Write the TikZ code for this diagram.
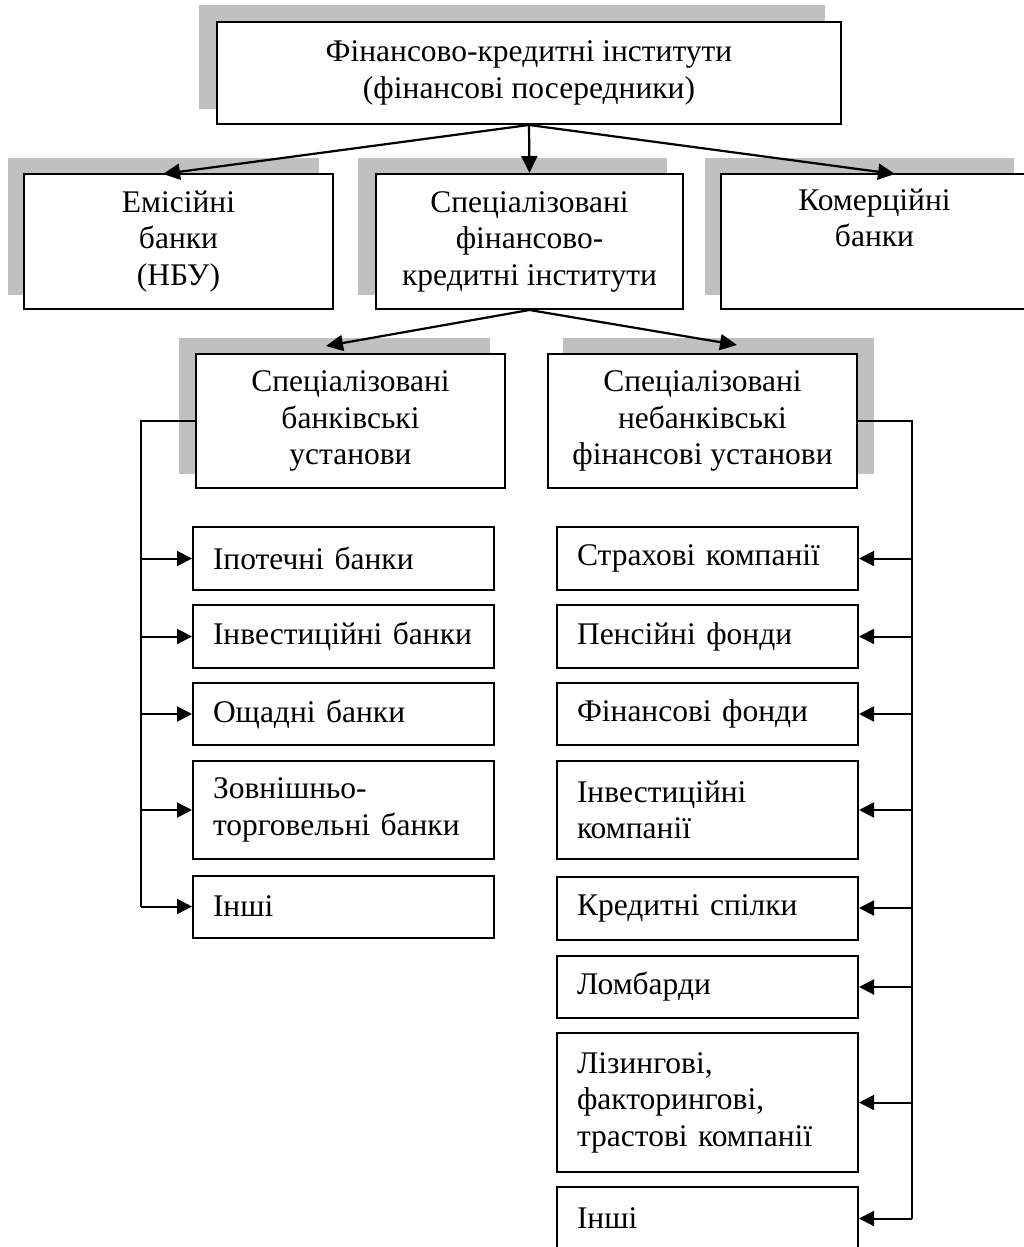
\documentclass[tikz,border=0pt]{standalone}
\usepackage{fontspec}
\setmainfont{Liberation Serif}
\usetikzlibrary{arrows.meta,backgrounds}
\definecolor{shadowgray}{HTML}{C0C0C0}
\begin{document}
\begin{tikzpicture}[x=1pt,y=-1pt,
  box/.style={draw, fill=white, line width=2pt, inner sep=0pt,
    font=\fontsize{31.5pt}{36.5pt}\selectfont, align=center},
  lbox/.style={box, align=left, text width=261pt, inner xsep=20pt, minimum height=#1},
  arr/.style={line width=2.2pt, -{Triangle[length=17pt,width=16pt]}},
  bus/.style={line width=2pt},
  br/.style={line width=2pt, -{Triangle[length=15pt,width=15pt]}},
  shadowbox/.style={fill=shadowgray}
]
\useasboundingbox (0,0) rectangle (1024,1247);

% main boxes
\node[box, minimum width=624pt, minimum height=102pt] (top) at (529,73)
  {Фінансово-кредитні інститути\\(фінансові посередники)};
\node[box, minimum width=309pt, minimum height=135pt] (em) at (178.5,241.5)
  {Емісійні\\банки\\(НБУ)};
\node[box, minimum width=307pt, minimum height=135pt] (spec) at (529.5,241.5)
  {Спеціалізовані\\фінансово-\\кредитні інститути};
\node[box, minimum width=307pt, minimum height=135pt] (kom) at (874.5,241.5)
  {Комерційні\\банки\\\strut};
\node[box, minimum width=309pt, minimum height=134pt] (sb) at (350.5,421)
  {Спеціалізовані\\банківські\\установи};
\node[box, minimum width=309pt, minimum height=134pt] (nb) at (702.5,421)
  {Спеціалізовані\\небанківські\\фінансові установи};

% left children
\node[lbox=63pt] (L1) at (343.5,558.5) {\mbox{Іпотечні банки}};
\node[lbox=63pt] (L2) at (343.5,636.5) {\mbox{Інвестиційні банки}};
\node[lbox=62pt] (L3) at (343.5,714) {\mbox{Ощадні банки}};
\node[lbox=98pt] (L4) at (343.5,810) {Зовнішньо-\\\mbox{торговельні банки}};
\node[lbox=62pt] (L5) at (343.5,906.5) {Інші};

% right children
\node[lbox=63pt] (R1) at (707.5,558.5) {\mbox{Страхові компанії}};
\node[lbox=63pt] (R2) at (707.5,636.5) {\mbox{Пенсійні фонди}};
\node[lbox=62pt] (R3) at (707.5,714) {\mbox{Фінансові фонди}};
\node[lbox=98pt] (R4) at (707.5,810) {Інвестиційні\\компанії};
\node[lbox=63pt] (R5) at (707.5,908) {\mbox{Кредитні спілки}};
\node[lbox=62pt] (R6) at (707.5,987) {Ломбарди};
\node[lbox=139pt] (R7) at (707.5,1102.5) {Лізингові,\\факторингові,\\\mbox{трастові компанії}};
\node[lbox=63pt] (R8) at (707.5,1218.5) {Інші};

% shadows
\begin{scope}[on background layer]
\foreach \n/\dx/\dy in {top/-17/-16, em/-15/-15, spec/-17/-15, kom/-15/-15, sb/-16/-15, nb/16/-15}
  \fill[shadowbox] ([shift={(\dx,\dy)}]\n.south west) rectangle ([shift={(\dx,\dy)}]\n.north east);
\end{scope}

% arrow tips and bus points
\coordinate (tEm) at (163,174);
\coordinate (tKom) at (895,174);
\coordinate (tSB) at (326,346);
\coordinate (tNB) at (737,345);
\coordinate (lbus) at (141,421);
\coordinate (rbus) at (912,421);

\draw[arr] (top.south) -- (tEm);
\draw[arr] (top.south) -- (spec.north);
\draw[arr] (top.south) -- (tKom);
\draw[arr] (spec.south) -- (tSB);
\draw[arr] (spec.south) -- (tNB);

\draw[bus] (sb.west) -- (lbus) -- (lbus |- L5.west);
\foreach \n in {L1,L2,L3,L4,L5}
  \draw[br] (lbus |- \n.west) -- (\n.west);

\draw[bus] (nb.east) -- (rbus) -- (rbus |- R8.east);
\foreach \n in {R1,R2,R3,R4,R5,R6,R7,R8}
  \draw[br] (rbus |- \n.east) -- (\n.east);
\end{tikzpicture}
\end{document}
